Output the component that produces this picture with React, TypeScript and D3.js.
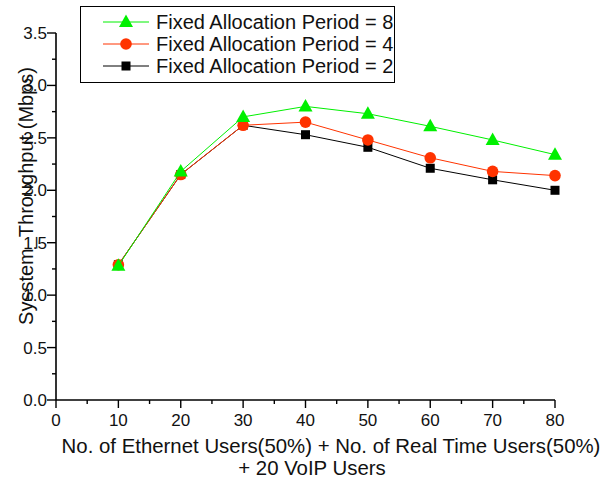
import * as d3 from "d3";
import { useMemo } from "react";

// x values (users)
const users = [10, 20, 30, 40, 50, 60, 70, 80];
// system throughput (Mbps) for each fixed allocation period
const period8 = [1.28, 2.18, 2.70, 2.80, 2.73, 2.61, 2.48, 2.34];
const period4 = [1.29, 2.15, 2.62, 2.65, 2.48, 2.31, 2.18, 2.14];
const period2 = [1.29, 2.15, 2.62, 2.53, 2.41, 2.21, 2.10, 2.00];

const xTicks = [0, 10, 20, 30, 40, 50, 60, 70, 80];
const yTicks = [0, 0.5, 1.0, 1.5, 2.0, 2.5, 3.0, 3.5];

const seriesList = [
    { name: "Fixed Allocation Period = 2", values: period2, color: "#000000", marker: "square" },
    { name: "Fixed Allocation Period = 4", values: period4, color: "#ff3300", marker: "circle" },
    { name: "Fixed Allocation Period = 8", values: period8, color: "#00f000", marker: "triangle" },
];

const W = 604;
const H = 482;
const margin = { top: 33, bottom: 82, left: 56, right: 49 };
const font = "Arial, 'Liberation Sans', sans-serif";

const Marker = ({ type, x, y, color }: { type: string; x: number; y: number; color: string }) => {
    if (type === "circle") return <circle cx={x} cy={y} r={5.8} fill={color} />;
    if (type === "square") return <rect x={x - 4.5} y={y - 4.5} width={9} height={9} fill={color} />;
    // triangle
    return <path d={`M${x},${y - 7.5} L${x + 7},${y + 5} L${x - 7},${y + 5} Z`} fill={color} />;
};

const App = () => {
    const boundsW = W - margin.left - margin.right;
    const boundsH = H - margin.top - margin.bottom;

    const scaleX = useMemo(() => d3.scaleLinear().domain([0, 80]).range([margin.left, margin.left + boundsW]), [boundsW]);
    const scaleY = useMemo(() => d3.scaleLinear().domain([0, 3.5]).range([margin.top + boundsH, margin.top]), [boundsH]);

    const lineGen = d3.line<number>()
        .x((_, i) => scaleX(users[i]))
        .y(d => scaleY(d));

    const minorX = d3.range(5, 80, 10);
    const minorY = d3.range(0.25, 3.5, 0.5);
    const y0 = scaleY(0);
    const x0 = scaleX(0);

    // legend rows are listed top to bottom: 8, 4, 2
    const legendRows = [...seriesList].reverse();

    return (
        <svg width={W} height={H} style={{ position: "absolute", left: 0, top: 0, background: "#fff" }}
             fontFamily={font}>
            {/* axes */}
            <line x1={x0} x2={scaleX(80)} y1={y0} y2={y0} stroke="#000" strokeWidth={1.6} />
            <line x1={x0} x2={x0} y1={scaleY(3.5)} y2={y0} stroke="#000" strokeWidth={1.6} />
            {xTicks.map(t => (
                <g key={"xt" + t}>
                    <line x1={scaleX(t)} x2={scaleX(t)} y1={y0} y2={y0 + 8} stroke="#000" strokeWidth={1.4} />
                    <text x={scaleX(t)} y={y0 + 26} textAnchor="middle" fontSize={17} fill="#111">{t}</text>
                </g>
            ))}
            {minorX.map(t => (
                <line key={"xm" + t} x1={scaleX(t)} x2={scaleX(t)} y1={y0} y2={y0 + 4} stroke="#000" strokeWidth={1.4} />
            ))}
            {yTicks.map(t => (
                <g key={"yt" + t}>
                    <line x1={x0 - 9} x2={x0} y1={scaleY(t)} y2={scaleY(t)} stroke="#000" strokeWidth={1.4} />
                    <text x={x0 - 9} y={scaleY(t)} dy="0.35em" textAnchor="end" fontSize={17} fill="#111">{t.toFixed(1)}</text>
                </g>
            ))}
            {minorY.map(t => (
                <line key={"ym" + t} x1={x0 - 4} x2={x0} y1={scaleY(t)} y2={scaleY(t)} stroke="#000" strokeWidth={1.4} />
            ))}

            {/* axis titles */}
            <text x={331} y={453} textAnchor="middle" fontSize={20.4} fill="#111">
                No. of Ethernet Users(50%) + No. of Real Time Users(50%)
            </text>
            <text x={312} y={475} textAnchor="middle" fontSize={20.4} fill="#111">+ 20 VoIP Users</text>
            <text transform="translate(33,196) rotate(-90)" textAnchor="middle" fontSize={20} fill="#111">
                Sysstem_Throughput (Mbps)
            </text>

            {/* series */}
            {seriesList.map(s => (
                <g key={s.name}>
                    <path d={lineGen(s.values) ?? ""} fill="none" stroke={s.color} strokeWidth={1} />
                    {s.values.map((v, i) => (
                        <Marker key={i} type={s.marker} x={scaleX(users[i])} y={scaleY(v)} color={s.color} />
                    ))}
                </g>
            ))}

            {/* legend */}
            <rect x={80.5} y={6.5} width={314} height={76} fill="#fff" stroke="#000" strokeWidth={1} />
            {legendRows.map((s, i) => {
                const cy = 22 + i * 22;
                return (
                    <g key={"lg" + s.name}>
                        <line x1={103} x2={149} y1={cy} y2={cy} stroke={s.color} strokeWidth={1} />
                        <Marker type={s.marker} x={126} y={cy} color={s.color} />
                        <text x={156} y={cy} dy="0.36em" fontSize={20} fill="#111">{s.name}</text>
                    </g>
                );
            })}
        </svg>
    );
};

export default App;
